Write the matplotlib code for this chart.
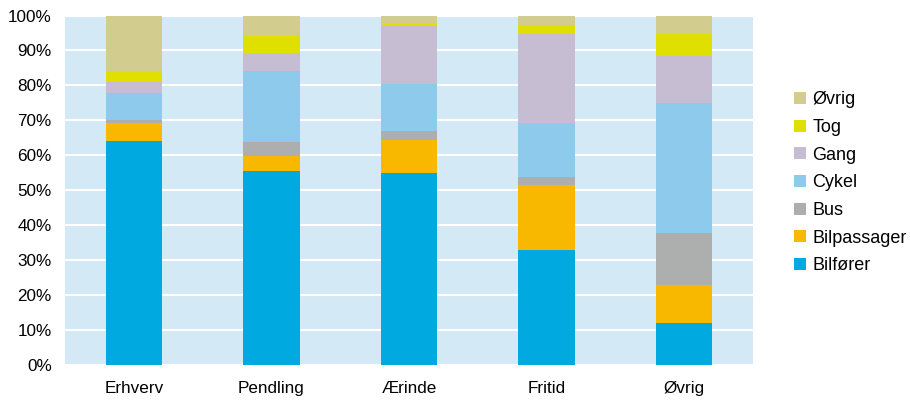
import matplotlib.pyplot as plt
import numpy as np

plt.rcParams['font.family'] = ['Liberation Sans', 'DejaVu Sans']

categories = ['Erhverv', 'Pendling', 'Ærinde', 'Fritid', 'Øvrig']
modes = ['Bilfører', 'Bilpassager', 'Bus', 'Cykel', 'Gang', 'Tog', 'Øvrig']
colors = ['#00A9E0', '#F8B800', '#ADAFAF', '#8DCAEC', '#C7BDD3', '#E0E000', '#D2CD8E']

# percent shares per category, bottom to top
bilforer = [64.0, 55.4, 54.9, 32.9, 11.9]
bilpassager = [5.2, 4.4, 9.5, 18.5, 10.9]
bus = [0.8, 4.0, 2.5, 2.3, 14.9]
cykel = [7.8, 20.3, 13.6, 15.5, 37.2]
gang = [3.2, 5.2, 16.5, 25.6, 13.6]
tog = [3.1, 5.1, 0.8, 2.5, 6.3]
ovrig = [15.9, 5.6, 2.2, 2.7, 5.2]

series = [bilforer, bilpassager, bus, cykel, gang, tog, ovrig]


def main():
    fig = plt.figure(figsize=(9.1, 4.03), dpi=100)
    ax = fig.add_axes([0.0714, 0.0955, 0.7561, 0.866])
    ax.set_facecolor('#D4E9F6')

    x = np.arange(len(categories))
    bottom = np.zeros(len(categories))
    handles = []
    for name, vals, col in zip(modes, series, colors):
        b = ax.bar(x, vals, 0.41, bottom=bottom, color=col, label=name, zorder=3)
        handles.append(b)
        bottom += np.array(vals)

    ax.set_xlim(-0.5, len(categories) - 0.5)
    ax.set_ylim(0, 100)
    ax.set_yticks(range(0, 101, 10))
    ax.set_yticklabels([f'{v}%' for v in range(0, 101, 10)], fontsize=12.3)
    ax.set_xticks(x)
    ax.set_xticklabels(categories, fontsize=12.3)
    ax.tick_params(axis='y', length=0, pad=9.5)
    ax.tick_params(axis='x', length=0, pad=12)
    ax.yaxis.grid(True, color='white', linewidth=1.5, zorder=1)
    ax.set_axisbelow(True)
    for s in ax.spines.values():
        s.set_visible(False)

    fig.legend(handles[::-1], modes[::-1], loc='upper left',
               bbox_to_anchor=(0.873, 0.773), frameon=False, fontsize=13,
               handlelength=0.65, handleheight=0.65, handletextpad=0.35,
               labelspacing=0.59, borderaxespad=0, borderpad=0)

    plt.savefig('out.png', dpi=100)


if __name__ == '__main__':
    main()
